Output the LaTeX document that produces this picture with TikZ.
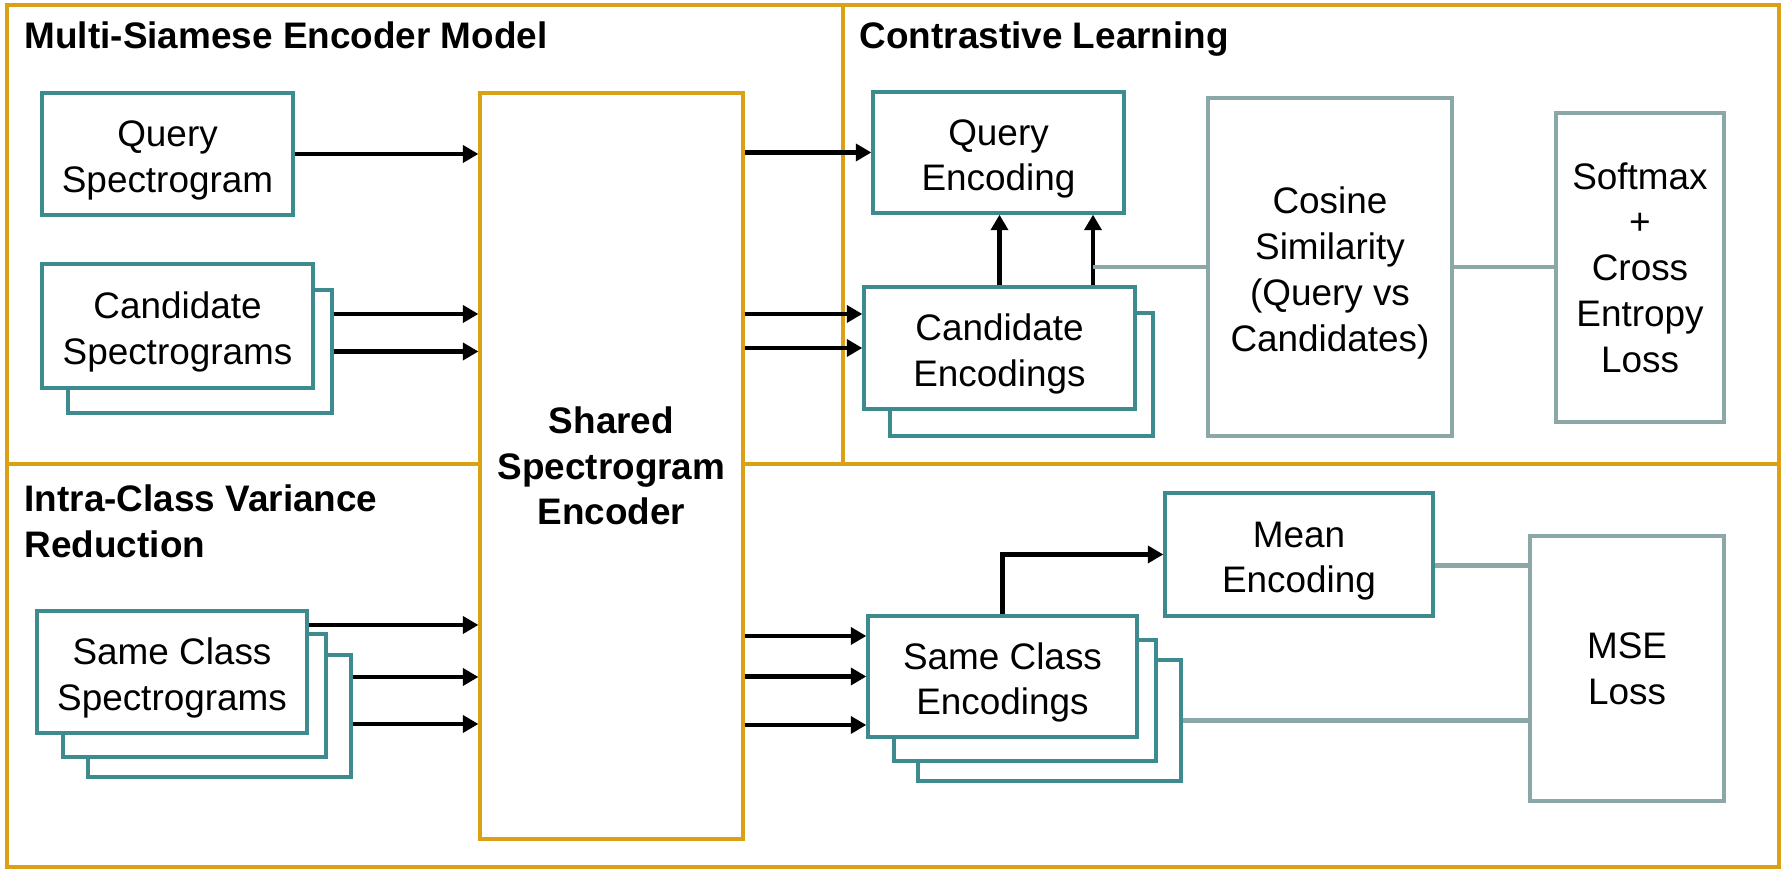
\documentclass[tikz,border=0pt]{standalone}
\usepackage{fontspec}
\setmainfont{Liberation Sans}
\usepackage{xcolor}
\usepackage{tikz}
\usetikzlibrary{arrows.meta,calc}

\definecolor{goldframe}{RGB}{218,160,22}
\definecolor{tealbox}{RGB}{62,139,143}
\definecolor{greybox}{RGB}{139,167,168}

\newcommand{\boxstrut}{\rule{0pt}{1.05em}}

\tikzset{
    region/.style={draw=goldframe, line width=0.9pt},
    encbox/.style={draw=goldframe, line width=0.9pt, fill=white, align=center, font=\fontsize{10.5}{13}\selectfont\bfseries, inner sep=0pt},
    tbox/.style={draw=tealbox, line width=0.95pt, fill=white, align=center, inner sep=0pt},
    gbox/.style={draw=greybox, line width=0.95pt, fill=white, align=center, inner sep=0pt},
    arr/.style={-{Triangle[length=4.4pt,width=4.8pt]}, line width=1.3pt, black},
    gline/.style={draw=greybox, line width=1.25pt},
    heading/.style={font=\fontsize{10.5}{13}\selectfont\bfseries, inner sep=0pt},
}

\begin{document}
\begin{tikzpicture}[font=\fontsize{10.5}{13}\selectfont]
        \useasboundingbox (0,0) rectangle (17.83,8.70);

        \draw[region] (0.07,0.03) rectangle (17.79,8.65);
        \draw[region] (0.07,4.06) -- (17.79,4.06);
        \draw[region] (8.43,4.06) -- (8.43,8.65);

        \node[heading, anchor=base west] (tmodel) at (0.24,8.21) {Multi-Siamese Encoder Model};
        \node[heading, anchor=base west] (tcontrast) at (8.59,8.21) {Contrastive Learning};
        \node[heading, anchor=north west, align=left] (tvariance) at (0.24,3.86) {Intra-Class Variance\\Reduction};

        \node[encbox, minimum width=2.63cm, minimum height=7.46cm] (enc) at (6.115,4.04) {Shared\\Spectrogram\\Encoder};

        \node[tbox, minimum width=2.51cm, minimum height=1.22cm] (qspec) at (1.675,7.16) {\boxstrut Query\\Spectrogram};

        \node[tbox, minimum width=2.64cm, minimum height=1.23cm] (cspecB) at (2.00,5.185) {};
        \node[tbox, minimum width=2.71cm, minimum height=1.24cm] (cspec) at (1.775,5.44) {\boxstrut Candidate\\Spectrograms};

        \node[tbox, minimum width=2.63cm, minimum height=1.22cm] (sspecC) at (2.195,1.54) {};
        \node[tbox, minimum width=2.63cm, minimum height=1.23cm] (sspecB) at (1.945,1.745) {};
        \node[tbox, minimum width=2.70cm, minimum height=1.22cm] (sspec) at (1.72,1.98) {\boxstrut Same Class\\Spectrograms};

        \node[tbox, minimum width=2.51cm, minimum height=1.21cm] (qenc) at (9.985,7.175) {\boxstrut Query\\Encoding};

        \node[tbox, minimum width=2.63cm, minimum height=1.23cm] (cencB) at (10.215,4.955) {};
        \node[tbox, minimum width=2.71cm, minimum height=1.22cm] (cenc) at (9.995,5.22) {\boxstrut Candidate\\Encodings};

        \node[gbox, minimum width=2.44cm, minimum height=3.38cm] (cos) at (13.30,6.03) {\boxstrut Cosine\\Similarity\\(Query vs\\Candidates)};
        \node[gbox, minimum width=1.68cm, minimum height=3.09cm] (soft) at (16.40,6.025) {Softmax\\+\\Cross\\Entropy\\Loss};

        \node[tbox, minimum width=2.68cm, minimum height=1.23cm] (mean) at (12.99,3.155) {\boxstrut Mean\\Encoding};

        \node[tbox, minimum width=2.63cm, minimum height=1.21cm] (sencC) at (10.495,1.495) {};
        \node[tbox, minimum width=2.62cm, minimum height=1.21cm] (sencB) at (10.25,1.695) {};
        \node[tbox, minimum width=2.69cm, minimum height=1.21cm] (senc) at (10.025,1.935) {\boxstrut Same Class\\Encodings};

        \node[gbox, minimum width=1.94cm, minimum height=2.65cm] (mse) at (16.27,2.015) {MSE\\Loss};

        \draw[arr] (qspec.east) -- (qspec.east -| enc.west);
        \coordinate (ca1) at ([yshift=3.75mm]cspecB.east);
        \draw[arr] (ca1) -- (ca1 -| enc.west);
        \draw[arr] (cspecB.east) -- (cspecB.east -| enc.west);

        \coordinate (sa1) at ([yshift=4.7mm]sspec.east);
        \coordinate (sa2) at ([yshift=3.9mm]sspecC.east);
        \coordinate (sa3) at ([yshift=-0.8mm]sspecC.east);
        \draw[arr] (sa1) -- (sa1 -| enc.west);
        \draw[arr] (sa2) -- (sa2 -| enc.west);
        \draw[arr] (sa3) -- (sa3 -| enc.west);

        \draw[arr] (qenc.west -| enc.east) -- (qenc.west);
        \coordinate (ce1) at ([yshift=3.4mm]cenc.west);
        \draw[arr] (ce1 -| enc.east) -- (ce1);
        \draw[arr] (cenc.west -| enc.east) -- (cenc.west);

        \draw[arr] (cenc.north) -- (cenc.north |- qenc.south);
        \coordinate (cu2) at ([xshift=9.35mm]cenc.north);
        \draw[arr] (cu2) -- (cu2 |- qenc.south);
        \draw[gline] (cu2 |- cos.west) -- (cos.west);
        \draw[gline] (cos.east) -- (cos.east -| soft.west);

        \coordinate (se1) at ([yshift=4.05mm]senc.west);
        \coordinate (se3) at ([yshift=-4.85mm]senc.west);
        \draw[arr] (se1 -| enc.east) -- (se1);
        \draw[arr] (senc.west -| enc.east) -- (senc.west);
        \draw[arr] (se3 -| enc.east) -- (se3);

        \draw[arr] (senc.north) |- (mean.west);
        \coordinate (me1) at ([yshift=-1.1mm]mean.east);
        \draw[gline] (me1) -- (me1 -| mse.west);
        \draw[gline] (sencC.east) -- (sencC.east -| mse.west);
\end{tikzpicture}
\end{document}
